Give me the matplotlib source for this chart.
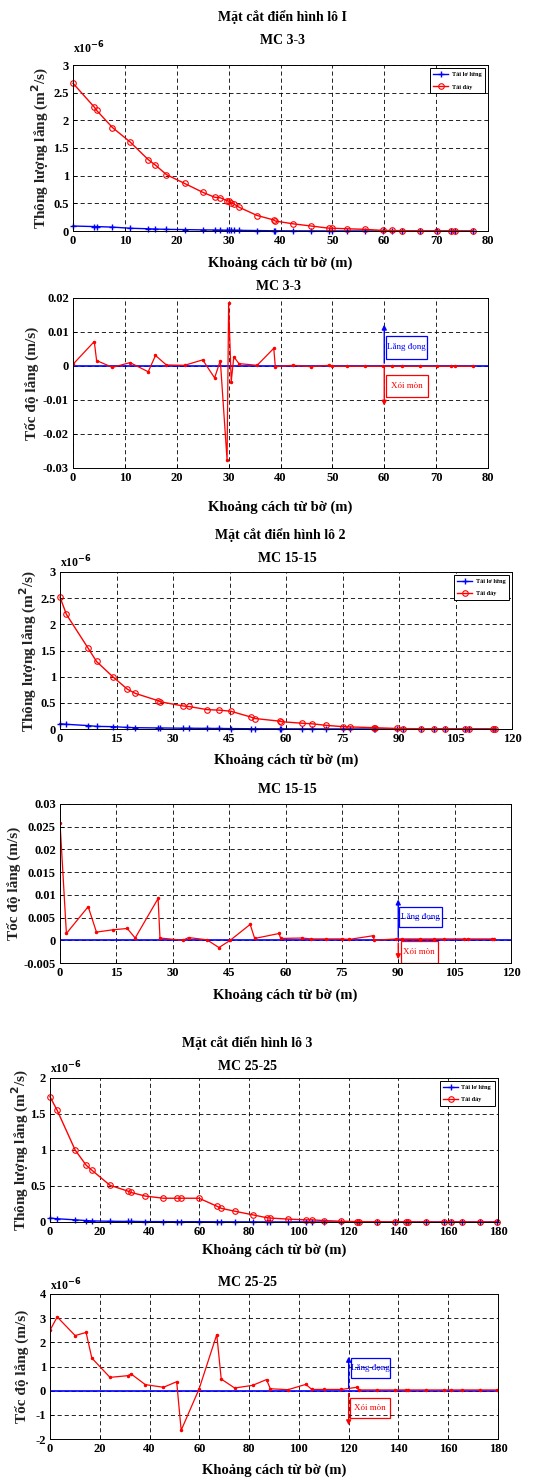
import matplotlib
matplotlib.use('Agg')
import numpy as np
from matplotlib import pyplot as plt
from matplotlib.patches import Rectangle
from matplotlib.ticker import FuncFormatter

# ---- data: lo I, MC 3-3 ----
x_mc3 = [0, 4.1, 4.55, 7.6, 11.0, 14.5, 15.9, 18.0, 21.5, 25.0, 27.3, 28.4, 29.7, 30.0,
         30.5, 31.0, 32.0, 35.5, 38.7, 39.0, 42.4, 45.9, 49.4, 50.0, 52.9, 56.3, 59.8,
         61.5, 63.4, 66.8, 70.2, 72.8, 73.7, 77.2]
bed_mc3 = [2.67, 2.24, 2.18, 1.87, 1.61, 1.29, 1.19, 1.02, 0.86, 0.70, 0.61, 0.60, 0.55, 0.54,
           0.51, 0.49, 0.43, 0.28, 0.20, 0.18, 0.13, 0.09, 0.05, 0.05, 0.04, 0.03, 0.01,
           0.01, 0.005, 0.003, 0.002, 0.001, 0.001, 0.0]
susp_mc3 = [0.09, 0.08, 0.08, 0.07, 0.05, 0.04, 0.035, 0.03, 0.025, 0.02, 0.018, 0.016, 0.014, 0.014,
            0.013, 0.013, 0.012, 0.008, 0.004, 0.004, 0.003, 0.002, 0.001, 0.001, 0.001, 0.0005, 0,
            0, 0, 0, 0, 0, 0, 0]
rate_mc3 = [0.0005, 0.0072, 0.0016, -0.0004, 0.0010, -0.0017, 0.0031, 0.0003, 0.0002, 0.0018,
            -0.0035, 0.0016, -0.0277, 0.0184, -0.0046, 0.0027, 0.0007, 0.0002, 0.0052, -0.0002,
            0.0002, -0.0002, 0.0002, -0.0001, -0.0001, -0.0001, -0.0001, -0.0001, -0.0001,
            -0.0001, -0.0001, -0.0001, -0.0001, -0.0001]

# ---- data: lo 2, MC 15-15 ----
x_mc15 = [0, 1.7, 7.5, 9.7, 14.0, 17.9, 20.0, 26.1, 26.6, 32.7, 34.2, 39.1, 42.3, 45.3, 50.6,
          51.8, 58.3, 58.7, 64.3, 66.8, 70.7, 75.0, 77.0, 83.3, 83.6, 89.5, 91.1, 95.9, 99.4,
          102.2, 107.5, 108.6, 114.9, 115.5]
bed_mc15 = [2.52, 2.19, 1.54, 1.29, 1.0, 0.76, 0.68, 0.54, 0.52, 0.44, 0.43, 0.37, 0.36, 0.34, 0.23,
            0.20, 0.15, 0.14, 0.11, 0.10, 0.07, 0.045, 0.04, 0.025, 0.024, 0.01, 0.008, 0.005, 0.004,
            0.003, 0.002, 0.002, 0.001, 0.001]
susp_mc15 = [0.10, 0.09, 0.065, 0.05, 0.045, 0.03, 0.025, 0.02, 0.02, 0.015, 0.015, 0.012, 0.01,
             0.008, 0.005, 0.004, 0.003, 0.003, 0.002, 0.002, 0.001, 0.001, 0.001, 0.0005, 0.0005,
             0, 0, 0, 0, 0, 0, 0, 0, 0]
rate_mc15 = [0.0259, 0.0015, 0.0074, 0.0018, 0.0023, 0.0026, 0.0005, 0.0092, 0.0005, 0.0, 0.0006,
             0.0001, -0.0016, 0.0, 0.0035, 0.0004, 0.0015, 0.0004, 0.0005, 0.0003, 0.0003, 0.0003,
             0.0002, 0.0010, 0.0, 0.0003, 0.0003, 0.0003, 0.0003, 0.0003, 0.0003, 0.0003, 0.0003,
             0.0003]

# ---- data: lo 3, MC 25-25 (x10^-6) ----
x_mc25 = [0, 2.9, 10.1, 14.5, 16.8, 24.1, 31.2, 32.6, 38.3, 45.6, 50.9, 52.7, 59.9, 67.0, 68.8,
          74.2, 81.4, 87.0, 88.5, 95.6, 102.8, 105.2, 109.9, 117.1, 123.3, 124.0, 131.4, 138.7,
          143.2, 143.8, 151.2, 158.4, 161.3, 165.6, 172.8, 179.6]
bed_mc25 = [1.74, 1.55, 1.0, 0.79, 0.72, 0.51, 0.43, 0.41, 0.36, 0.33, 0.33, 0.33, 0.33, 0.22, 0.19,
            0.15, 0.10, 0.06, 0.055, 0.04, 0.03, 0.03, 0.02, 0.01, 0.005, 0.005, 0.003, 0.002,
            0.001, 0.001, 0, 0, 0, 0, 0, 0]
susp_mc25 = [0.055, 0.045, 0.03, 0.02, 0.015, 0.01, 0.008, 0.008, 0.006, 0.005, 0.004, 0.004, 0.004,
             0.003, 0.003, 0.002, 0.002, 0.001, 0.001, 0.001, 0.001, 0, 0, 0, 0, 0, 0, 0, 0, 0, 0,
             0, 0, 0, 0, 0]
rate_mc25 = [2.5, 3.05, 2.28, 2.41, 1.35, 0.55, 0.62, 0.69, 0.25, 0.14, 0.37, -1.64, 0.07, 2.32, 0.48,
             0.11, 0.22, 0.46, 0.08, 0.04, 0.26, 0.05, 0.05, 0.05, 0.14, 0.03, 0.03, 0.03, 0.03,
             0.03, 0.03, 0.03, 0.03, 0.03, 0.03, 0.03]

W, H = 555, 1481
plt.rcParams['font.family'] = 'Liberation Serif'
plt.rcParams['font.weight'] = 'bold'
plt.rcParams['axes.unicode_minus'] = False

fig = plt.figure(figsize=(W / 100, H / 100), dpi=100)


def px_axes(l, t, r, b):
    ax = fig.add_axes([l / W, 1 - b / H, (r - l) / W, (b - t) / H])
    ax._px = (l, t, r, b)
    return ax


def ftext(x, y, s, size=10):
    fig.text(x / W, 1 - y / H, s, ha='center', va='center', fontsize=size, fontweight='bold')


def style(ax, xmax, xstep, ymin, ymax, ystep, ylabel, ylab_x, xlab_y):
    l, t, r, b = ax._px
    ax.set_xlim(0, xmax)
    ax.set_ylim(ymin, ymax)
    ax.set_xticks(np.arange(0, xmax + 0.1, xstep))
    ax.set_yticks(np.arange(ymin, ymax + ystep / 2, ystep))
    ax.yaxis.set_major_formatter(FuncFormatter(lambda v, p: '%g' % round(v, 6)))
    ax.grid(True, color='black', linestyle=(0, (5, 3.5)), linewidth=0.6)
    ax.tick_params(direction='in', length=3, width=0.6, labelsize=9, pad=3)
    for sp in ax.spines.values():
        sp.set_linewidth(0.7)
    ax.set_xlabel('Khoảng cách từ bờ (m)', fontsize=10.5, fontweight='bold', va='center')
    ax.set_ylabel(ylabel, fontsize=11, fontweight='bold', color='#222222', va='center')
    ax.xaxis.set_label_coords(0.5, (b - xlab_y) / (b - t))
    ax.yaxis.set_label_coords((ylab_x - l) / (r - l), 0.5)


def mult_text(ax, y_px):
    l, t, r, b = ax._px
    ax.text(0, (b - y_px) / (b - t), 'x10$^{-6}$', transform=ax.transAxes, fontsize=8.5,
            ha='left', va='center')


def flux_panel(ax, x, susp, bed, xmax, xstep, ymax, ylab_x, xlab_y, mult_y):
    ax.plot(x, susp, color='blue', marker='+', markersize=4, linewidth=1,
            label='Tải lơ lửng', clip_on=False)
    ax.plot(x, bed, color='red', marker='o', markersize=4, markerfacecolor='none',
            markeredgewidth=0.8, linewidth=1, label='Tải đáy', clip_on=False)
    style(ax, xmax, xstep, 0, ymax, 0.5, 'Thông lượng lắng (m$^2$/s)', ylab_x, xlab_y)
    mult_text(ax, mult_y)
    leg = ax.legend(loc='upper right', fontsize=4.5, handlelength=2.4, fancybox=False,
                    framealpha=1, edgecolor='black', borderpad=0.6, labelspacing=1.1,
                    borderaxespad=0.5, handletextpad=0.5)
    leg.get_frame().set_linewidth(0.7)


def rate_panel(ax, x, rate, xmax, xstep, ymin, ymax, ystep, ylab_x, xlab_y,
               xarrow, up, down, bbox_up, bbox_down):
    ax.axhline(0, color='blue', linewidth=1.2)
    ax.plot(x, rate, color='red', marker='.', markersize=3, linewidth=0.9)
    style(ax, xmax, xstep, ymin, ymax, ystep, 'Tốc độ lắng (m/s)', ylab_x, xlab_y)
    ax.annotate('', xy=(xarrow, up), xytext=(xarrow, 0),
                arrowprops=dict(arrowstyle='-|>', color='blue', lw=1, mutation_scale=7))
    ax.annotate('', xy=(xarrow, down), xytext=(xarrow, 0),
                arrowprops=dict(arrowstyle='-|>', color='red', lw=1, mutation_scale=7))
    for (x0, x1, y0, y1), col, txt in [(bbox_up, 'blue', 'Lắng đọng'), (bbox_down, 'red', 'Xói mòn')]:
        ax.add_patch(Rectangle((x0, y0), x1 - x0, y1 - y0, fill=False, edgecolor=col, linewidth=0.9))
        ax.text((x0 + x1) / 2, (y0 + y1) / 2, txt, color=col, fontsize=6.5, fontweight='normal',
                ha='center', va='center')


# ---- lo I ----
ftext(282, 17, 'Mặt cắt điển hình lô I')
ftext(283, 40, 'MC 3-3')
ax1 = px_axes(73, 65, 488, 231)
flux_panel(ax1, x_mc3, susp_mc3, bed_mc3, 80, 10, 3, 40, 263, 48)

ftext(279, 287, 'MC 3-3')
ax2 = px_axes(73, 298, 488, 468)
rate_panel(ax2, x_mc3, rate_mc3, 80, 10, -0.03, 0.02, 0.01, 32, 507, 60, 0.013, -0.0125,
           (60.4, 68.2, 0.0021, 0.0089), (60.4, 68.4, -0.009, -0.0026))

# ---- lo 2 ----
ftext(280, 535, 'Mặt cắt điển hình lô 2')
ftext(287, 558, 'MC 15-15')
ax3 = px_axes(60, 572, 512, 729)
flux_panel(ax3, x_mc15, susp_mc15, bed_mc15, 120, 15, 3, 28, 760, 562)

ftext(287, 790, 'MC 15-15')
ax4 = px_axes(60, 804, 511, 963)
rate_panel(ax4, x_mc15, rate_mc15, 120, 15, -0.005, 0.03, 0.005, 14, 995, 90, 0.0096, -0.0048,
           (90.3, 101.7, 0.0029, 0.0074), (90.6, 100.5, -0.005, -0.0002))

# ---- lo 3 ----
ftext(247, 1043, 'Mặt cắt điển hình lô 3')
ftext(248, 1067, 'MC 25-25')
ax5 = px_axes(50, 1078, 498, 1222)
flux_panel(ax5, x_mc25, susp_mc25, bed_mc25, 180, 20, 2, 20, 1250, 1068)

ftext(248, 1283, 'MC 25-25')
ax6 = px_axes(50, 1294, 498, 1439)
rate_panel(ax6, x_mc25, rate_mc25, 180, 20, -2, 4, 1, 22, 1470, 120, 1.52, -1.55,
           (120.9, 136.7, 0.52, 1.35), (120.6, 136.5, -1.13, -0.30))
mult_text(ax6, 1285)

fig.savefig('out.png', dpi=100)
